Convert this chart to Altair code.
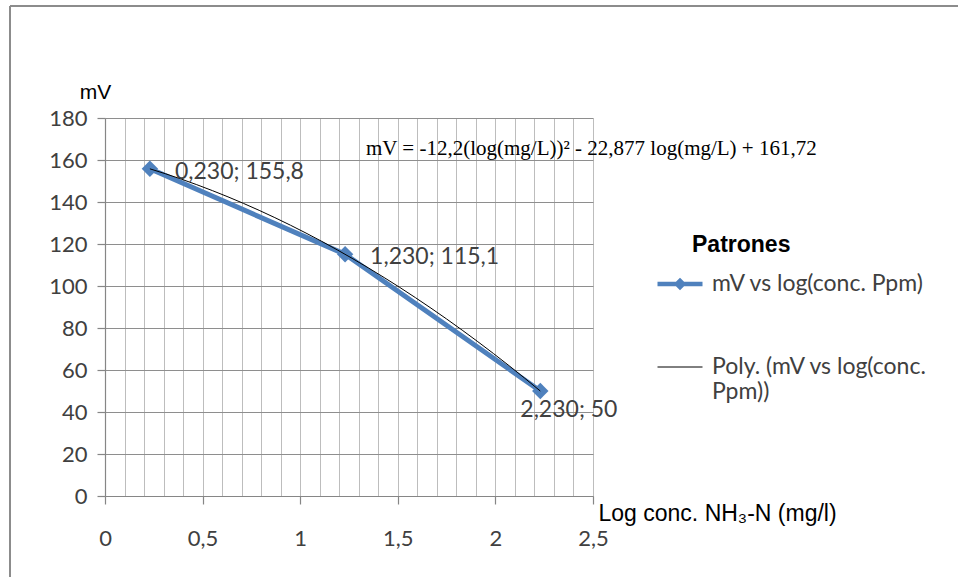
import altair as alt
import pandas as pd

# Calibration points: log concentration vs electrode potential
log_conc = [0.230, 1.230, 2.230]
mv = [155.8, 115.1, 50.0]

serie_datos = "mV vs log(conc. Ppm)"
serie_poly = "Poly. (mV vs log(conc. Ppm))"
series = [serie_datos, serie_poly]

x_grid_values = [round(i * 0.1, 1) for i in range(26)]
y_tick_values = list(range(0, 181, 20))

ecuacion = "mV = -12,2(log(mg/L))\u00b2 - 22,877 log(mg/L) + 161,72"
titulo_x = "Log conc. NH\u2083-N (mg/l)"
titulo_leyenda = "Patrones"

AZUL = "#4F81BD"
GRIS_TEXTO = "#404040"
FUENTE = "Lato"
ARIAL = "Liberation Sans"

W, H = 488, 378
PAD_L, PAD_T = 105, 118

datos = pd.DataFrame({"x": log_conc, "y": mv})
leyenda_df = pd.DataFrame({"serie": series, "x": [None, None], "y": [None, None]})
unit = pd.DataFrame({"k": [0]})

es_medio = "abs(datum.value*2 - round(datum.value*2)) < 1e-6"

x_scale = alt.Scale(domain=[0, 2.5], nice=False, zero=False)
y_scale = alt.Scale(domain=[0, 180], nice=False)

x_axis = alt.Axis(
    values=x_grid_values,
    grid=True, gridColor="#bdbdbd", gridWidth=1,
    domainColor="#868686", domainWidth=1.2,
    tickSize=8, tickWidth=1.2,
    tickColor={"condition": {"test": es_medio, "value": "#868686"}, "value": "rgba(0,0,0,0)"},
    labelExpr=f"{es_medio} ? replace(format(datum.value, '~g'), '.', ',') : ''",
    labelFont=FUENTE, labelFontSize=22, labelColor=GRIS_TEXTO,
    labelPadding=24, labelFlush=False, labelOverlap=False,
    title=titulo_x, titleFont=ARIAL, titleFontSize=23, titleFontWeight="normal",
    titleColor="black", titleAlign="left", titleBaseline="middle",
    titleX=W + 5, titleY=17,
)

y_axis = alt.Axis(
    values=y_tick_values,
    grid=True, gridColor="#8e8e8e", gridWidth=1,
    domainColor="#868686", domainWidth=1.2,
    tickSize=8, tickColor="#868686", tickWidth=1.2,
    labelFont=FUENTE, labelFontSize=22, labelColor=GRIS_TEXTO,
    labelPadding=10, labelFlush=False, labelOverlap=False,
    title="mV", titleFont=ARIAL, titleFontSize=21, titleFontWeight="normal",
    titleColor="black", titleAngle=0, titleAlign="center", titleBaseline="middle",
    titleX=-10, titleY=-26,
)

X = alt.X("x:Q", scale=x_scale, axis=x_axis)
Y = alt.Y("y:Q", scale=y_scale, axis=y_axis)

# Chart frame
borde_sup = alt.Chart(unit).mark_rule(color="#8c8c8c", strokeWidth=2).encode(
    x=alt.value(10 - PAD_L), x2=alt.value(958 - PAD_L), y=alt.value(6 - PAD_T)
)
borde_izq = alt.Chart(unit).mark_rule(color="#8c8c8c", strokeWidth=2).encode(
    x=alt.value(10 - PAD_L), y=alt.value(6 - PAD_T), y2=alt.value(577 - PAD_T)
)

linea = alt.Chart(datos).mark_line(color=AZUL, strokeWidth=5).encode(x=X, y=Y)
puntos = alt.Chart(datos).mark_point(
    shape="diamond", filled=True, size=270, color=AZUL, opacity=1
).encode(x=X, y=Y)

tendencia = alt.Chart(datos).transform_regression(
    "x", "y", method="poly", order=2, extent=[0.23, 2.23]
).mark_line(color="black", strokeWidth=1).encode(x=X, y=Y)

etiqueta_calc = (
    "replace(format(datum.x, '.3f'), '.', ',') + '; ' + replace(format(datum.y, '~g'), '.', ',')"
)
etiquetas_a = alt.Chart(datos).transform_filter("datum.x < 2").transform_calculate(
    etq=etiqueta_calc
).mark_text(
    align="left", baseline="middle", dx=25, dy=3, font=FUENTE, fontSize=23, color=GRIS_TEXTO
).encode(x=X, y=Y, text="etq:N")
etiquetas_b = alt.Chart(datos).transform_filter("datum.x >= 2").transform_calculate(
    etq=etiqueta_calc
).mark_text(
    align="left", baseline="middle", dx=-20, dy=19, font=FUENTE, fontSize=23, color=GRIS_TEXTO
).encode(x=X, y=Y, text="etq:N")

texto_ecuacion = alt.Chart(unit).mark_text(
    align="left", baseline="middle", font="Liberation Serif", fontSize=21, color="black"
).encode(x=alt.value(366 - PAD_L), y=alt.value(149 - PAD_T), text=alt.value(ecuacion))

texto_titulo_leyenda = alt.Chart(unit).mark_text(
    align="left", baseline="middle", font=ARIAL, fontSize=23, fontWeight="bold", color="black"
).encode(x=alt.value(692 - PAD_L), y=alt.value(245 - PAD_T), text=alt.value(titulo_leyenda))

# Legend symbols: a thick line with a diamond, and a thin plain line
path_datos = "M-1,0H1M0,-0.14L0.14,0L0,0.14L-0.14,0Z"
path_poly = "M-1,0H1"

leyenda_common = dict(
    orient="none", legendX=550, legendY=141, direction="vertical",
    symbolSize=2025, labelFont=FUENTE, labelFontSize=23, labelColor=GRIS_TEXTO,
    labelOffset=7, labelLimit=400, rowPadding=47, padding=0,
    labelExpr=(
        "datum.label == '" + serie_poly + "' ? ['Poly. (mV vs log(conc.', 'Ppm))'] : datum.label"
    ),
)

leyenda = alt.Chart(leyenda_df).mark_point(filled=False, size=2025, opacity=1).encode(
    x=X,
    y=Y,
    color=alt.Color("serie:N", scale=alt.Scale(domain=series, range=[AZUL, "black"]),
                    legend=alt.Legend(title=None, **leyenda_common)),
    shape=alt.Shape("serie:N", scale=alt.Scale(domain=series, range=[path_datos, path_poly]),
                    legend=alt.Legend(title=None, **leyenda_common)),
    strokeWidth=alt.StrokeWidth("serie:N", scale=alt.Scale(domain=series, range=[4.5, 1]),
                                legend=alt.Legend(title=None, **leyenda_common)),
)

chart = alt.layer(
    borde_sup, borde_izq, linea, puntos, tendencia, etiquetas_a, etiquetas_b,
    texto_ecuacion, texto_titulo_leyenda, leyenda,
).properties(
    width=W, height=H,
    autosize=alt.AutoSizeParams(type="none"),
    padding={"left": PAD_L, "top": PAD_T, "right": 958 - PAD_L - W, "bottom": 577 - PAD_T - H},
    background="white",
).configure_view(stroke=None)

chart.save("out.html", embed_options={"renderer": "svg", "actions": False})
